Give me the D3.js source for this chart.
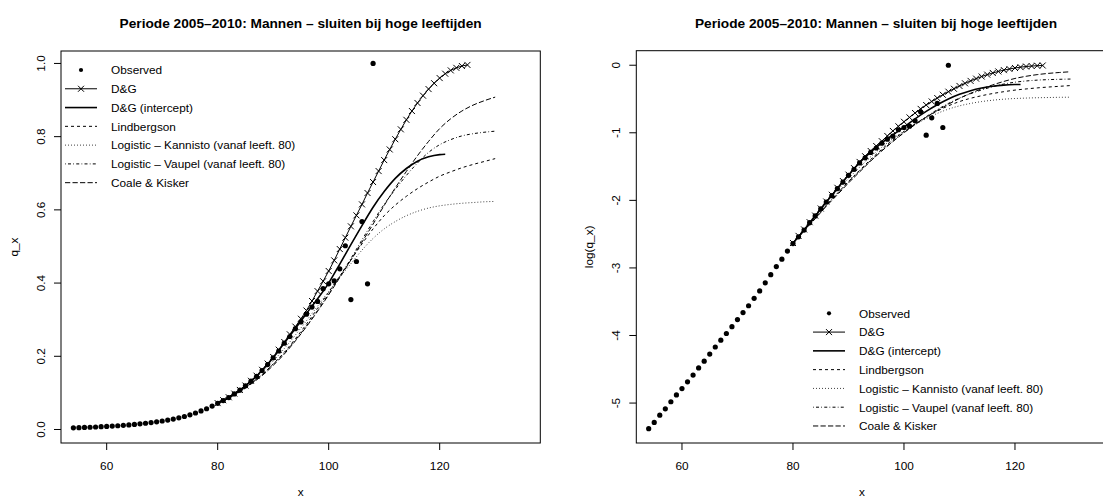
<!DOCTYPE html>
<html><head><meta charset="utf-8">
<script src="https://cdn.jsdelivr.net/npm/d3@7"></script>
<style>
body{margin:0;background:#fff}
svg{display:block}
text{font-family:"Liberation Sans",Arial,Helvetica,sans-serif;fill:#000}
</style>
</head><body>
<svg id="c" width="1103" height="499"></svg>
<script>
// ---------------- DATA ----------------
const titleText = "Periode 2005\u20132010: Mannen \u2013 sluiten bij hoge leeftijden";
const xTicks = [60, 80, 100, 120];
const qTicks = [0, 0.2, 0.4, 0.6, 0.8, 1.0];
const qTickLabels = ["0.0", "0.2", "0.4", "0.6", "0.8", "1.0"];
const logTicks = [0, -1, -2, -3, -4, -5];
const logTickLabels = ["0", "-1", "-2", "-3", "-4", "-5"];
const legendLabels = ["Observed", "D&G", "D&G (intercept)", "Lindbergson",
  "Logistic \u2013 Kannisto (vanaf leeft. 80)", "Logistic \u2013 Vaupel (vanaf leeft. 80)", "Coale & Kisker"];

const obsAges = [54,55,56,57,58,59,60,61,62,63,64,65,66,67,68,69,70,71,72,73,74,75,76,77,78,79,
  80,81,82,83,84,85,86,87,88,89,90,91,92,93,94,95,96,97,98,99,100,101,102,103,104,105,106,107,108];
const obsQ = [0.00461,0.00506,0.00563,0.00619,0.00687,0.00760,0.00835,0.00923,0.01020,0.01133,
  0.01252,0.01391,0.01545,0.01708,0.01887,0.02086,0.02317,0.02573,0.02844,0.03175,0.03544,0.03996,
  0.04505,0.05079,0.05670,0.06393,0.07136,0.07887,0.08716,0.09730,0.1075,0.1194,0.1320,0.1451,
  0.1612,0.1773,0.1959,0.2144,0.2357,0.2541,0.2753,0.2938,0.3151,0.3345,0.3499,0.3848,0.398,
  0.406,0.439,0.502,0.355,0.459,0.568,0.398,1.0];

const dgAges = [80,81,82,83,84,85,86,87,88,89,90,91,92,93,94,95,96,97,98,99,100,101,102,103,104,
  105,106,107,108,109,110,111,112,113,114,115,116,117,118,119,120,121,122,123,124,125];
const dgQ = [0.072,0.080,0.088,0.098,0.108,0.120,0.133,0.147,0.163,0.180,0.198,0.218,0.239,0.260,
  0.281,0.3025,0.325,0.351,0.378,0.405,0.433,0.462,0.493,0.524,0.555,0.585,0.615,0.646,0.676,0.706,
  0.736,0.765,0.793,0.820,0.846,0.870,0.892,0.912,0.930,0.946,0.960,0.972,0.981,0.988,0.993,0.996];

const icAges = [80,82,84,86,88,90,92,94,96,98,100,102,104,106,108,110,112,114,116,118,120,121];
const icQ = [0.072,0.087,0.107,0.132,0.161,0.196,0.236,0.276,0.317,0.357,0.400,0.452,0.505,0.557,
  0.607,0.650,0.686,0.713,0.733,0.745,0.751,0.752];

const clAges = [80,82,84,86,88,90,92,94,96,98,100,102,104,106,108,110,112,114,116,118,120,122,124,126,128,130];
const lindQ = [0.0714,0.0863,0.104,0.1256,0.150,0.179,0.211,0.248,0.288,0.331,0.375,0.419,0.463,
  0.507,0.548,0.584,0.613,0.637,0.658,0.676,0.692,0.704,0.715,0.724,0.732,0.740];
const kannQ = [0.070,0.087,0.107,0.130,0.157,0.187,0.221,0.258,0.297,0.337,0.377,0.416,0.453,0.490,
  0.522,0.548,0.568,0.584,0.596,0.605,0.611,0.615,0.618,0.620,0.622,0.623];
const vaupQ = [0.072,0.087,0.105,0.126,0.150,0.178,0.209,0.244,0.283,0.325,0.370,0.418,0.467,0.518,
  0.568,0.615,0.656,0.694,0.728,0.757,0.778,0.792,0.802,0.808,0.812,0.815];
const ckQ = [0.0714,0.0863,0.103,0.124,0.147,0.175,0.206,0.242,0.281,0.323,0.368,0.415,0.463,0.512,
  0.561,0.612,0.660,0.705,0.748,0.787,0.822,0.849,0.870,0.886,0.898,0.908];

// ---------------- STYLES ----------------
const DASH = { lind: "3,3", kann: "0.75,2.25", vaup: "0.75,2.25,3,2.25", ck: "5.25,2.25" };
const FS = 11.8;
const CROSS = 3.0;

const svg = d3.select("#c");

function crossPath(cx, cy, s) {
  return `M${cx - s},${cy - s}L${cx + s},${cy + s}M${cx - s},${cy + s}L${cx + s},${cy - s}`;
}

function drawPanel(cfg, id) {
  const x = d3.scaleLinear().domain([51.77, 138.13]).range([cfg.x0, cfg.x1]);
  const y = d3.scaleLinear().domain(cfg.yDomain).range([cfg.y1, cfg.y0]);
  const f = cfg.tf;
  const g = svg.append("g");

  g.append("clipPath").attr("id", "clip" + id).append("rect")
    .attr("x", cfg.x0).attr("y", cfg.y0).attr("width", cfg.x1 - cfg.x0).attr("height", cfg.y1 - cfg.y0);
  const p = g.append("g").attr("clip-path", `url(#clip${id})`);

  // observed
  p.selectAll("circle.obs").data(obsAges.map((a, i) => [a, obsQ[i]])).enter().append("circle")
    .attr("cx", d => x(d[0])).attr("cy", d => y(f(d[1]))).attr("r", 2.6).attr("fill", "#000");

  const line = d3.line().x(d => x(d[0])).y(d => y(f(d[1])));
  const smooth = d3.line().x(d => x(d[0])).y(d => y(f(d[1]))).curve(d3.curveMonotoneX);

  // D&G with crosses
  const dg = dgAges.map((a, i) => [a, dgQ[i]]);
  p.append("path").attr("d", line(dg)).attr("fill", "none").attr("stroke", "#000").attr("stroke-width", 1);
  p.selectAll("path.cross").data(dg).enter().append("path")
    .attr("d", d => crossPath(x(d[0]), y(f(d[1])), CROSS))
    .attr("stroke", "#000").attr("stroke-width", 1).attr("fill", "none");

  // intercept
  p.append("path").attr("d", smooth(icAges.map((a, i) => [a, icQ[i]])))
    .attr("fill", "none").attr("stroke", "#000").attr("stroke-width", 1.6);

  const closures = [[lindQ, DASH.lind], [kannQ, DASH.kann], [vaupQ, DASH.vaup], [ckQ, DASH.ck]];
  closures.forEach(([arr, da]) => {
    p.append("path").attr("d", smooth(clAges.map((a, i) => [a, arr[i]])))
      .attr("fill", "none").attr("stroke", "#000").attr("stroke-width", 1).attr("stroke-dasharray", da);
  });

  // box
  g.append("rect").attr("x", cfg.x0).attr("y", cfg.y0).attr("width", cfg.x1 - cfg.x0)
    .attr("height", cfg.y1 - cfg.y0).attr("fill", "none").attr("stroke", "#000").attr("stroke-width", 1);

  // x axis ticks
  xTicks.forEach(v => {
    const xx = x(v);
    g.append("line").attr("x1", xx).attr("x2", xx).attr("y1", cfg.y1).attr("y2", cfg.y1 + 7)
      .attr("stroke", "#000").attr("stroke-width", 1);
    g.append("text").attr("x", xx).attr("y", cfg.y1 + 27).attr("text-anchor", "middle")
      .attr("font-size", FS).text(v);
  });
  // y axis ticks
  cfg.yTicks.forEach((v, i) => {
    const yy = y(v);
    g.append("line").attr("x1", cfg.x0 - 7).attr("x2", cfg.x0).attr("y1", yy).attr("y2", yy)
      .attr("stroke", "#000").attr("stroke-width", 1);
    const tx = cfg.x0 - 16.3;
    g.append("text").attr("x", tx).attr("y", yy).attr("text-anchor", "middle")
      .attr("transform", `rotate(-90,${tx},${yy})`).attr("font-size", FS).text(cfg.yTickLabels[i]);
  });

  // labels
  g.append("text").attr("x", cfg.titleX).attr("y", 27.5).attr("text-anchor", "middle")
    .attr("font-size", 13.7).attr("font-weight", "bold").text(titleText);
  g.append("text").attr("x", cfg.xlabX).attr("y", 496).attr("text-anchor", "middle")
    .attr("font-size", FS).text("x");
  const ly = (cfg.y0 + cfg.y1) / 2, lx = cfg.x0 - 43;
  g.append("text").attr("x", lx).attr("y", ly).attr("text-anchor", "middle")
    .attr("transform", `rotate(-90,${lx},${ly})`).attr("font-size", FS).text(cfg.ylab);

  // legend
  const L = cfg.legend, step = 18.78, len = 32;
  legendLabels.forEach((lab, i) => {
    const ry = L.y + i * step, cx = L.x + len / 2;
    g.append("text").attr("x", L.x + 46).attr("y", ry + 4.3).attr("font-size", FS).text(lab);
    if (i === 0) {
      g.append("circle").attr("cx", cx).attr("cy", ry).attr("r", 2.1).attr("fill", "#000");
    } else {
      const ln = g.append("line").attr("x1", L.x).attr("x2", L.x + len).attr("y1", ry).attr("y2", ry)
        .attr("stroke", "#000").attr("stroke-width", i === 2 ? 1.6 : 1);
      const das = [null, null, null, DASH.lind, DASH.kann, DASH.vaup, DASH.ck][i];
      if (das) ln.attr("stroke-dasharray", das);
      if (i === 1) {
        g.append("path").attr("d", crossPath(cx, ry, CROSS))
          .attr("stroke", "#000").attr("stroke-width", 1);
      }
    }
  });
}

drawPanel({ x0: 61, x1: 540.3, y0: 51, y1: 443, yDomain: [-0.0369, 1.034], tf: q => q,
  yTicks: qTicks, yTickLabels: qTickLabels, ylab: "q_x", titleX: 300.65, xlabX: 300.65,
  legend: { x: 65, y: 70 } }, 1);
drawPanel({ x0: 636.3, x1: 1115.6, y0: 50.7, y1: 443, yDomain: [-5.591, 0.215], tf: q => Math.log(q),
  yTicks: logTicks, yTickLabels: logTickLabels, ylab: "log(q_x)", titleX: 876, xlabX: 862,
  legend: { x: 813, y: 313.3 } }, 2);
</script>
</body></html>
